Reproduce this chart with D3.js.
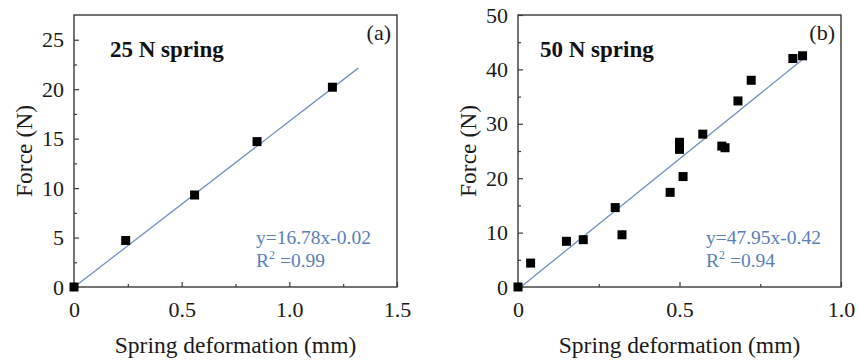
<!DOCTYPE html>
<html><head><meta charset="utf-8">
<script src="https://cdn.jsdelivr.net/npm/d3@7"></script>
<style>
html,body{margin:0;padding:0;background:#fff;}
svg{display:block;font-family:"Liberation Serif","Times New Roman",serif;}
</style></head>
<body><svg id="c" width="859" height="362"></svg>
<script>
// ---- data ----
const aDeform = [0, 0.24, 0.56, 0.85, 1.2];
const aForce  = [0, 4.7, 9.3, 14.7, 20.2];
const aFit = {slope: 16.78, intercept: -0.02, xEnd: 1.32};
const aXTicks = [0, 0.5, 1.0, 1.5];
const aXTickLabels = ["0", "0.5", "1.0", "1.5"];
const aYTicks = [0, 5, 10, 15, 20, 25];

const bDeform = [0, 0.039, 0.150, 0.202, 0.301, 0.322, 0.471, 0.5, 0.5, 0.511, 0.572, 0.631, 0.641, 0.681, 0.722, 0.851, 0.881];
const bForce  = [0, 4.4, 8.4, 8.7, 14.6, 9.6, 17.4, 26.6, 25.3, 20.3, 28.1, 25.9, 25.6, 34.2, 38.0, 42.0, 42.5];
const bFit = {slope: 47.95, intercept: -0.42, xEnd: 0.88};
const bXTicks = [0, 0.5, 1.0];
const bXTickLabels = ["0", "0.5", "1.0"];
const bYTicks = [0, 10, 20, 30, 40, 50];

const svg = d3.select("#c");
const lineColor = "#7190c4", textBlue = "#5a7fb8";

function panel(o){
  const x = d3.scaleLinear().domain(o.xDomain).range([o.left, o.right]);
  const y = d3.scaleLinear().domain(o.yDomain).range([o.bottom, o.top]);
  const g = svg.append("g");
  // fit line
  g.append("line")
    .attr("x1", x(0)).attr("y1", y(o.fit.intercept))
    .attr("x2", x(o.fit.xEnd)).attr("y2", y(o.fit.slope*o.fit.xEnd + o.fit.intercept))
    .attr("stroke", lineColor).attr("stroke-width", 1.3);
  // frame
  g.append("rect").attr("x", o.left).attr("y", o.top)
    .attr("width", o.right-o.left).attr("height", o.bottom-o.top)
    .attr("fill", "none").attr("stroke", "#3a3a3a").attr("stroke-width", 1.4);
  // axes
  const xa = g.append("g").attr("transform", `translate(0,${o.bottom})`)
    .call(d3.axisBottom(x).tickValues(o.xTicks).tickSize(-5).tickPadding(14)
      .tickFormat((d,i)=>o.xTickLabels[i]));
  const xm = g.append("g").attr("transform", `translate(0,${o.bottom})`)
    .call(d3.axisBottom(x).tickValues(o.xMinor).tickSize(-3).tickFormat(""));
  const ya = g.append("g").attr("transform", `translate(${o.left},0)`)
    .call(d3.axisLeft(y).tickValues(o.yTicks).tickSize(-5).tickPadding(10).tickFormat(d3.format("d")));
  const ym = g.append("g").attr("transform", `translate(${o.left},0)`)
    .call(d3.axisLeft(y).tickValues(o.yMinor).tickSize(-3).tickFormat(""));
  [xa,xm,ya,ym].forEach(a=>{
    a.select(".domain").remove();
    a.selectAll("line").attr("stroke","#3a3a3a").attr("stroke-width",1.2);
    a.selectAll("text").attr("font-family","Liberation Serif").attr("font-size",22).attr("fill","#1a1a1a");
  });
  xa.selectAll("text").attr("dy","0.71em");
  // points
  g.selectAll("rect.pt").data(o.xs.map((v,i)=>[v,o.ys[i]])).enter().append("rect")
    .attr("class","pt").attr("x", d=>x(d[0])-4.5).attr("y", d=>y(d[1])-4.5)
    .attr("width",9).attr("height",9).attr("fill","#000");
  // labels
  g.append("text").attr("x",(o.left+o.right)/2).attr("y",353).attr("text-anchor","middle")
    .attr("font-size",23.5).attr("fill","#1a1a1a").text("Spring deformation (mm)");
  g.append("text").attr("transform",`translate(${o.left-42},${(o.top+o.bottom)/2}) rotate(-90)`)
    .attr("text-anchor","middle").attr("font-size",23.5).attr("fill","#1a1a1a").text("Force (N)");
  g.append("text").attr("x",o.titleX).attr("y",57).attr("font-weight","bold")
    .attr("font-size",23).attr("fill","#111").text(o.title);
  g.append("text").attr("x",o.right-6).attr("y",40).attr("text-anchor","end")
    .attr("font-size",22).attr("fill","#1a1a1a").text(o.tag);
  g.append("text").attr("x",o.eqX).attr("y",244).attr("font-size",19.5).attr("fill",textBlue).text(o.eq);
  const r = g.append("text").attr("x",o.eqX).attr("y",267).attr("font-size",19.5).attr("fill",textBlue);
  r.append("tspan").text("R");
  r.append("tspan").attr("font-size",12).attr("dy",-8).text("2");
  r.append("tspan").attr("dy",8).text(" =" + o.r2);
}

panel({left:74,right:397,top:15,bottom:287,xDomain:[0,1.5],yDomain:[0,27.5],
  xTicks:aXTicks,xTickLabels:aXTickLabels,xMinor:[0.25,0.75,1.25],
  yTicks:aYTicks,yMinor:[2.5,7.5,12.5,17.5,22.5],
  xs:aDeform,ys:aForce,fit:aFit,title:"25 N spring",titleX:110,tag:"(a)",
  eq:"y=16.78x-0.02",r2:"0.99",eqX:256});
panel({left:518,right:841,top:15,bottom:287,xDomain:[0,1.0],yDomain:[0,50],
  xTicks:bXTicks,xTickLabels:bXTickLabels,xMinor:[0.25,0.75],
  yTicks:bYTicks,yMinor:[5,15,25,35,45],
  xs:bDeform,ys:bForce,fit:bFit,title:"50 N spring",titleX:540,tag:"(b)",
  eq:"y=47.95x-0.42",r2:"0.94",eqX:706});
</script></body></html>
